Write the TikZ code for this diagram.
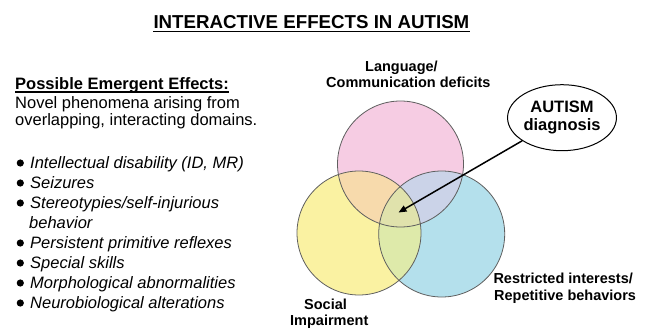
\documentclass[tikz,border=0pt]{standalone}
\usepackage{fontspec}
\setmainfont{Liberation Sans}
\usetikzlibrary{arrows.meta,shapes.geometric}
\definecolor{pinkc}{RGB}{246,204,227}
\definecolor{yelc}{RGB}{250,242,162}
\definecolor{cyanc}{RGB}{180,224,236}
\definecolor{pcc}{RGB}{203,211,232}
\definecolor{pyc}{RGB}{247,218,172}
\definecolor{ycc}{RGB}{222,234,170}
\definecolor{pycc}{RGB}{224,226,172}
\definecolor{edgec}{RGB}{95,95,95}
\begin{document}
\begin{tikzpicture}[x=1pt,y=-1pt,
 txt/.style={anchor=base west,inner sep=0pt,font=\fontsize{16.5}{17}\selectfont},
 item/.style={anchor=base west,inner sep=0pt,font=\fontsize{16.5}{17}\selectfont\itshape},
 lbl/.style={anchor=base west,inner sep=0pt,font=\fontsize{14.5}{16}\selectfont\bfseries},
 ring/.style={draw=edgec,line width=0.8pt},
 uline/.style={line width=1.3pt},
 bul/.style={fill=black}]
\useasboundingbox (0,0) rectangle (653,329);

% title
\node[anchor=base west,inner sep=0pt,font=\fontsize{18.7}{20}\selectfont\bfseries] (title) at (153.3,28.3) {INTERACTIVE EFFECTS IN AUTISM};
\draw[uline] ([yshift=-3.2pt]title.base west) -- ([yshift=-3.2pt]title.base east);

% left column
\node[anchor=base west,inner sep=0pt,font=\fontsize{16.5}{17}\selectfont\bfseries] (pee) at (15,89.5) {Possible Emergent Effects:};
\draw[uline] ([yshift=-2.6pt]pee.base west) -- ([yshift=-2.6pt]pee.base east);
\node[txt] (l1) at (15,108.3) {Novel phenomena arising from};
\node[txt] (l2) at (15,125) {overlapping, interacting domains.};

\node[item] (b1) at (30,168.3) {Intellectual disability (ID, MR)};
\node[item] (b2) at (30,188.3) {Seizures};
\node[item] (b3) at (30,208.3) {Stereotypies/self-injurious};
\node[item] (b3b) at (29,228.3) {behavior};
\node[item] (b4) at (30,248.3) {Persistent primitive reflexes};
\node[item] (b5) at (30,268.3) {Special skills};
\node[item] (b6) at (30,288.3) {Morphological abnormalities};
\node[item] (b7) at (30,308.3) {Neurobiological alterations};
\foreach \yy in {168.3,188.3,208.3,248.3,268.3,288.3,308.3}
  \fill[bul] (20.3,\yy-5.3) circle[radius=3.6pt];

% circles
\coordinate (cL) at (400.5,164);
\coordinate (cS) at (359,233);
\coordinate (cR) at (441.7,234);
\fill[pinkc] (cL) circle[radius=63pt];
\fill[cyanc] (cR) circle[radius=63pt];
\fill[yelc] (cS) circle[radius=62pt];
\begin{scope}
  \clip (cL) circle[radius=63pt];
  \fill[pcc] (cR) circle[radius=63pt];
  \fill[pyc] (cS) circle[radius=62pt];
\end{scope}
\begin{scope}
  \clip (cR) circle[radius=63pt];
  \fill[ycc] (cS) circle[radius=62pt];
\end{scope}
\begin{scope}
  \clip (cL) circle[radius=63pt];
  \clip (cR) circle[radius=63pt];
  \fill[pycc] (cS) circle[radius=62pt];
\end{scope}
\draw[ring] (cL) circle[radius=63pt];
\draw[ring] (cR) circle[radius=63pt];
\draw[ring] (cS) circle[radius=62pt];

% circle labels
\node[lbl] (lang1) at (365,71.7) {Language/};
\node[lbl] (lang2) at (326,87.7) {Communication deficits};
\node[lbl] (rep1) at (493.3,283.3) {Restricted interests/};
\node[lbl] (rep2) at (494,300) {Repetitive behaviors};
\node[lbl] (soc1) at (304,309.3) {Social};
\node[lbl] (soc2) at (290,325) {Impairment};

% autism ellipse and arrow
\node[ellipse,draw,line width=1pt,minimum width=108pt,minimum height=66pt,inner sep=0pt,align=center,
      font=\fontsize{16.5}{18.3}\selectfont\bfseries] (aut) at (562,117.7) {AUTISM\\diagnosis};
\coordinate (tip) at (398.5,212.5);
\draw[line width=1.5pt,-{Triangle[length=8pt,width=6.5pt]}] (aut) -- (tip);
\end{tikzpicture}
\end{document}
